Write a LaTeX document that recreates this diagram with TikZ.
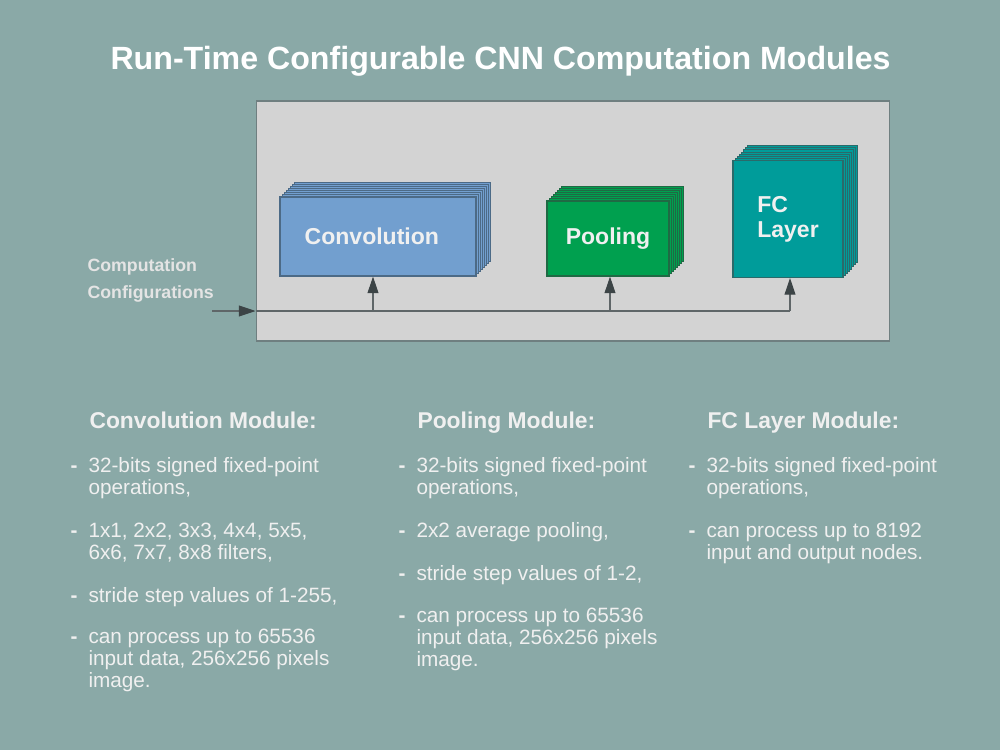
\documentclass[tikz,border=0pt]{standalone}
\usepackage{fontspec}
\setmainfont{Liberation Sans}
\usetikzlibrary{arrows.meta,shadows}
\definecolor{slide}{HTML}{8AA9A7}
\definecolor{panel}{HTML}{D3D3D3}
\definecolor{panelline}{HTML}{6F7F80}
\definecolor{convfill}{HTML}{729FCF}
\definecolor{convline}{HTML}{4C6A86}
\definecolor{poolfill}{HTML}{00A04F}
\definecolor{poolline}{HTML}{1F6A44}
\definecolor{fcfill}{HTML}{009C9A}
\definecolor{fcline}{HTML}{2A6A6A}
\definecolor{ink}{HTML}{F0F0F0}
\definecolor{wire}{HTML}{5F6668}
\definecolor{tip}{HTML}{3C4446}

\begin{document}
\begin{tikzpicture}[x=0.02cm,y=-0.02cm,>={Triangle[length=9.5pt,width=6.2pt,color=tip]},line width=0.6pt]
  \tikzstyle{layers}=[copy shadow={shadow xshift=8.4pt,shadow yshift=8.4pt},
                      copy shadow={shadow xshift=7.2pt,shadow yshift=7.2pt},
                      copy shadow={shadow xshift=6pt,shadow yshift=6pt},
                      copy shadow={shadow xshift=4.8pt,shadow yshift=4.8pt},
                      copy shadow={shadow xshift=3.6pt,shadow yshift=3.6pt},
                      copy shadow={shadow xshift=2.4pt,shadow yshift=2.4pt},
                      copy shadow={shadow xshift=1.2pt,shadow yshift=1.2pt}]
  \tikzstyle{module}=[rectangle,layers,
                      text=ink,
                      align=left,
                      font=\fontsize{13.1}{14.2}\selectfont\bfseries]
  \tikzstyle{conv_module}=[module,draw=convline,fill=convfill,
                      minimum width=3.92cm,minimum height=1.58cm]
  \tikzstyle{pool_module}=[module,draw=poolline,fill=poolfill,
                      minimum width=2.44cm,minimum height=1.5cm]
  \tikzstyle{fc_module}=[module,draw=fcline,fill=fcfill,
                      minimum width=2.2cm,minimum height=2.34cm]
  \tikzstyle{heading}=[anchor=base west,inner sep=0,text=ink,
                      font=\fontsize{13}{15}\selectfont\bfseries]
  % base = baseline of the last line
  \tikzstyle{item}=[anchor=base west,inner sep=0,text=ink,align=left,
                      font=\fontsize{11.8}{12.5}\selectfont]
  \tikzstyle{hyphen}=[item,font=\fontsize{11.8}{12.5}\selectfont\bfseries]
  %Fondo
  \fill[slide] (0,0) rectangle (1000,750);
  \useasboundingbox (0,0) rectangle (1000,750);
  \node[anchor=base west,inner sep=0,text=white,font=\fontsize{18.3}{20}\selectfont\bfseries]
       (title) at (110,70) {Run-Time Configurable CNN Computation Modules};
  \node[rectangle,draw=panelline,fill=panel,minimum width=12.68cm,minimum height=4.8cm]
       (panel) at (573,221) {};
  %Modulos
  \node[conv_module] (conv) at (378,236.5) {Convolution\hspace*{7pt}};
  \node[pool_module] (pool) at (608,238.5) {Pooling};
  \node[fc_module] (fc) at (788,219) {FC\\Layer};
  %Configuracion
  \node[anchor=base west,inner sep=0,align=left,text=ink!95!black,
        font=\fontsize{10.1}{15.3}\selectfont\bfseries]
       (cfglabel) at (87,298) {Computation\\Configurations};
  \coordinate (cfg) at (212,311);
  \coordinate (tapconv) at (373,311);
  \coordinate (tappool) at (610,311);
  \coordinate (tapfc) at (790,311);
  \draw[->,wire] (cfg) -- (panel.west |- cfg);
  \draw[wire] (panel.west |- cfg) -- (tapfc);
  \draw[->,wire] (tapconv) -- (tapconv |- conv.south);
  \draw[->,wire] (tappool) -- (tappool |- pool.south);
  \draw[->,wire] (tapfc) -- (tapfc |- fc.south);
  %Texto convolucion
  \node[heading] (convhead) at (89,428) {Convolution Module:};
  \node[hyphen] (c1d) at (70,472) {-};
  \node[item] (c1) at (88,494) {32-bits signed fixed-point\\operations,};
  \node[hyphen] (c2d) at (70,537) {-};
  \node[item] (c2) at (88,559) {1x1, 2x2, 3x3, 4x4, 5x5,\\6x6, 7x7, 8x8 filters,};
  \node[hyphen] (c3d) at (70,602) {-};
  \node[item] (c3) at (88,602) {stride step values of 1-255,};
  \node[hyphen] (c4d) at (70,643) {-};
  \node[item] (c4) at (88,687) {can process up to 65536\\input data, 256x256 pixels\\image.};
  %Texto pooling
  \node[heading] (poolhead) at (417,428) {Pooling Module:};
  \node[hyphen] (p1d) at (398,472) {-};
  \node[item] (p1) at (416,494) {32-bits signed fixed-point\\operations,};
  \node[hyphen] (p2d) at (398,537) {-};
  \node[item] (p2) at (416,537) {2x2 average pooling,};
  \node[hyphen] (p3d) at (398,580) {-};
  \node[item] (p3) at (416,580) {stride step values of 1-2,};
  \node[hyphen] (p4d) at (398,622) {-};
  \node[item] (p4) at (416,666) {can process up to 65536\\input data, 256x256 pixels\\image.};
  %Texto FC
  \node[heading] (fchead) at (707,428) {FC Layer Module:};
  \node[hyphen] (f1d) at (688,472) {-};
  \node[item] (f1) at (706,494) {32-bits signed fixed-point\\operations,};
  \node[hyphen] (f2d) at (688,537) {-};
  \node[item] (f2) at (706,559) {can process up to 8192\\input and output nodes.};
\end{tikzpicture}
\end{document}
